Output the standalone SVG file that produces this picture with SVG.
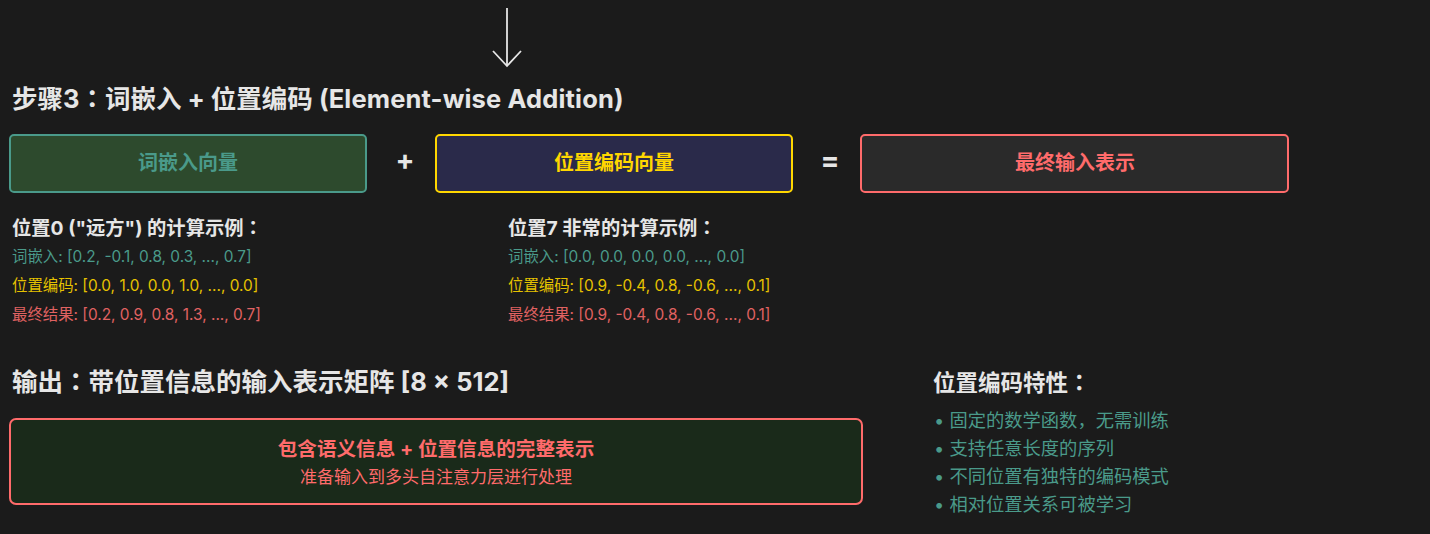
<svg xmlns="http://www.w3.org/2000/svg" width="1430" height="534" viewBox="0 0 1430 534">
<style>
text{font-family:Inter,"Noto Sans CJK SC",sans-serif}
.c{font-family:"Noto Sans CJK TC",sans-serif}
.h{fill:#e6e6e6;font-weight:bold}
.big{font-size:25.5px}
.h2{font-size:25.5px}
.h4{font-size:22.5px}
.h3{font-size:19.3px}
.lbl{font-size:20px;font-weight:bold;text-anchor:middle}
.op{fill:#e6e6e6;font-size:28px;font-weight:bold;text-anchor:middle}
.ln{font-size:15.4px}
.g{fill:#4a9a8a}
.y{fill:#e6c200}
.r{fill:#e06262}
.b{font-size:18.3px;fill:#4a9a8a}
</style>
<rect width="1430" height="534" fill="#1b1b1b"/>
<g id="connectors">
<line x1="507" y1="8" x2="507" y2="66" stroke="#e6e6e6" stroke-width="1.8"/>
<polyline points="493,51 507,66 521,51" fill="none" stroke="#e6e6e6" stroke-width="1.8"/>
</g>
<text class="h big" x="12" y="108">步骤3<tspan class="c">：</tspan>词嵌入 + 位置编码 <tspan letter-spacing="0.15">(Element-wise Addition)</tspan></text>
<g id="word-emb">
<rect x="10" y="135" width="356" height="57" rx="4" fill="#2d4a2d" stroke="#4a9a8a" stroke-width="2"/>
<text class="lbl g" x="188" y="170">词嵌入向量</text>
</g>
<text class="op" x="405" y="170">+</text>
<g id="pos-enc">
<rect x="436" y="135" width="356" height="57" rx="4" fill="#2a2a4a" stroke="#ffd700" stroke-width="2"/>
<text class="lbl" x="614" y="170" fill="#ffd700">位置编码向量</text>
</g>
<text class="op" x="830" y="170">=</text>
<g id="final">
<rect x="861" y="135" width="427" height="57" rx="4" fill="#2a2a2a" stroke="#ff6b6b" stroke-width="2"/>
<text class="lbl" x="1075" y="170" fill="#ff6b6b">最终输入表示</text>
</g>
<g id="example0">
<text class="h h3" x="12" y="235">位置0 ("远方") 的计算示例<tspan class="c">：</tspan></text>
<text class="ln g" x="12" y="262">词嵌入: [0.2, -0.1, 0.8, 0.3, ..., 0.7]</text>
<text class="ln y" x="12" y="291">位置编码: [0.0, 1.0, 0.0, 1.0, ..., 0.0]</text>
<text class="ln r" x="12" y="320">最终结果: [0.2, 0.9, 0.8, 1.3, ..., 0.7]</text>
</g>
<g id="example7">
<text class="h h3" x="508" y="235">位置7 非常的计算示例<tspan class="c">：</tspan></text>
<text class="ln g" x="508" y="262">词嵌入: [0.0, 0.0, 0.0, 0.0, ..., 0.0]</text>
<text class="ln y" x="508" y="291">位置编码: [0.9, -0.4, 0.8, -0.6, ..., 0.1]</text>
<text class="ln r" x="508" y="320">最终结果: [0.9, -0.4, 0.8, -0.6, ..., 0.1]</text>
</g>
<text class="h h2" x="12" y="391">输出<tspan class="c">：</tspan>带位置信息的输入表示矩阵 [8 × 512]</text>
<g id="output">
<rect x="10" y="419" width="852" height="85" rx="6" fill="#1a2a1a" stroke="#ff6b6b" stroke-width="2"/>
<text class="lbl" x="436" y="456" fill="#ff6b6b" style="font-size:19.6px">包含语义信息 + 位置信息的完整表示</text>
<text x="436" y="483" font-size="17" text-anchor="middle" fill="#ff6b6b">准备输入到多头自注意力层进行处理</text>
</g>
<g id="properties">
<text class="h h4" x="933" y="391">位置编码特性<tspan class="c">：</tspan></text>
<text class="b" x="934" y="427">• 固定的数学函数，无需训练</text>
<text class="b" x="934" y="455">• 支持任意长度的序列</text>
<text class="b" x="934" y="483">• 不同位置有独特的编码模式</text>
<text class="b" x="934" y="511">• 相对位置关系可被学习</text>
</g>
</svg>
